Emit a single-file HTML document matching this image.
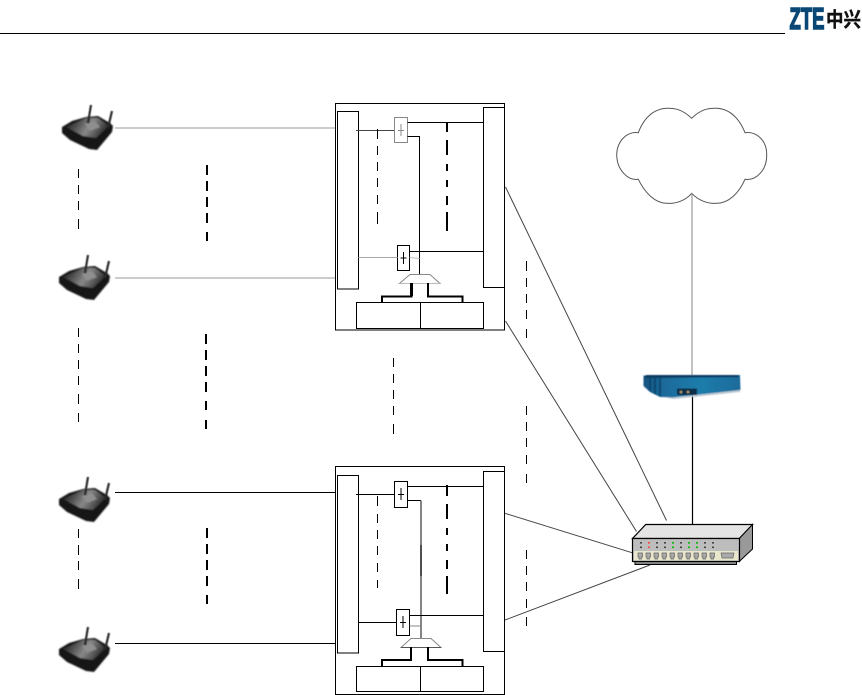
<!DOCTYPE html>
<html><head><meta charset="utf-8"><style>html,body{margin:0;padding:0;background:#fff;width:862px;height:695px;overflow:hidden}svg{display:block}</style></head><body>
<svg width="862" height="695" viewBox="0 0 862 695" xmlns="http://www.w3.org/2000/svg" shape-rendering="auto">
<defs>
<filter id="b" x="-10%" y="-10%" width="120%" height="120%"><feGaussianBlur stdDeviation="0.8"/></filter>
<filter id="b2" x="-10%" y="-10%" width="120%" height="120%"><feGaussianBlur stdDeviation="0.4"/></filter>
<linearGradient id="rt" x1="0" y1="0.2" x2="1" y2="0.5"><stop offset="0" stop-color="#1c1c1c"/><stop offset=".3" stop-color="#555"/><stop offset=".55" stop-color="#888"/><stop offset=".8" stop-color="#555"/><stop offset="1" stop-color="#222"/></linearGradient>
<linearGradient id="bl" x1="0" y1="0" x2="1" y2="0"><stop offset="0" stop-color="#12527f"/><stop offset=".2" stop-color="#1a6a9a"/><stop offset=".6" stop-color="#1f7dab"/><stop offset="1" stop-color="#1a6a9a"/></linearGradient>
<g id="router">
<g filter="url(#b)">
<path d="M62 127 L72 121 L86 117 L98 116 L110 123 L113 126 L112 132 L97 150 L89 149 L70 140 L62 133Z" fill="#161616"/>
<path d="M66 127 L86 118 L98 118 L109 126 L96 138 L83 136 Z" fill="url(#rt)"/>
<path d="M85 124 L95 121 L100 127 L90 131Z" fill="#8f8f8f"/>
</g>
<g filter="url(#b2)" stroke="#2a2a2a" fill="none" stroke-width="2.2">
<path d="M91 105 L88 123"/><path d="M112 111 L108 128"/>
</g>
</g>
</defs>
<rect width="862" height="695" fill="#fff"/>

<!-- header -->
<line x1="0" y1="33.5" x2="785" y2="33.5" stroke="#000" stroke-width="1"/>
<text x="789.500" y="29" font-family="'Liberation Sans',sans-serif" font-weight="700" font-size="31" fill="#0a4775" textLength="35" lengthAdjust="spacingAndGlyphs" stroke="#0a4775" stroke-width="1.5">ZTE</text>
<text x="826" y="26.500" font-family="'Liberation Sans','Noto Sans CJK SC',sans-serif" font-weight="700" font-size="20" fill="#111" textLength="35" lengthAdjust="spacingAndGlyphs" stroke="#111" stroke-width=".4">中兴</text>

<!-- routers -->
<use href="#router"/>
<use href="#router" transform="translate(-3,150)"/>
<use href="#router" transform="translate(-3,372)"/>
<use href="#router" transform="translate(-3,522)"/>

<g fill="none" stroke="#000">
<!-- router links -->
<line x1="115" y1="128" x2="335" y2="128" stroke="#999"/>
<line x1="115" y1="278" x2="335" y2="278" stroke="#999"/>
<line x1="115" y1="492.5" x2="335" y2="492.5"/>
<line x1="115" y1="643.5" x2="335" y2="643.5"/>

<!-- dashes left -->
<g stroke-width="1">
<path d="M78.500 169V178M78.500 185V194M78.500 201V210M78.500 219V229"/>
<path d="M78.500 328V337M78.500 344V353M78.500 360V369M78.500 376V385M78.500 394V404M78.500 413V422"/>
<path d="M78.500 529V538M78.500 545V555M78.500 561V570M78.500 579V589"/>
<path d="M393.500 358V367M393.500 374V383M393.500 390V399M393.500 406V415M393.500 424V434"/>
<path d="M526.500 261V271M526.500 278V287M526.500 294V303M526.500 310V319M526.500 329V338"/>
<path d="M526.500 406V415M526.500 422V431M526.500 438V447M526.500 455V464M526.500 474V483"/>
<path d="M526.500 550V559M526.500 566V575M526.500 582V591M526.500 599V608M526.500 617V626"/>
</g>
<g stroke-width="2">
<path d="M207 165V175M207 181V191M207 197V207M207 213V223M207 232V241"/>
<path d="M206 334V344M206 350V360M206 366V376M206 382V392M206 401V410M206 420V429"/>
<path d="M207 528V538M207 544V554M207 560V570M207 576V586M207 595V604"/>
</g>

<!-- block 1 -->
<rect x="335.500" y="103.500" width="169" height="226.500"/>
<rect x="337.500" y="111.500" width="21" height="177.500"/>
<rect x="483.500" y="107.500" width="21" height="180"/>
<rect x="356.500" y="302.500" width="127" height="26"/>
<line x1="420.500" y1="302.500" x2="420.500" y2="328.500"/>
<line x1="356" y1="130.500" x2="394.500" y2="130.500" stroke="#444"/>
<rect x="394.500" y="117.500" width="13" height="25" stroke="#888"/>
<path d="M401 124V136M398 130.500H404" stroke="#888"/>
<line x1="407.500" y1="122.500" x2="483.500" y2="122.500"/>
<path d="M407.500 136.500H419.500V274"/>
<path d="M377.500 129V139M377.500 146V155M377.500 162V171M377.500 178V187M377.500 195V204M377.500 212V224"/>
<path d="M447 123V132M447 140V155M447 164V171M447 180V187M447 196V205M447 212V231" stroke-width="2"/>
<rect x="397.500" y="245.500" width="12" height="25"/>
<path d="M403.500 252V264M400.500 258H406.500"/>
<line x1="409.500" y1="251.500" x2="483.500" y2="251.500"/>
<line x1="358.500" y1="257.500" x2="397.500" y2="257.500" stroke="#aaa"/>
<line x1="409.500" y1="257.500" x2="419.500" y2="258.500" stroke="#bbb"/>
<path d="M410 274.500H430L440 283.500H399.500Z" stroke="#888" fill="#fff"/>
<path d="M399.500 283.500H440" stroke="#bbb"/>
<path d="M411.500 283V296.500H382V302" stroke-width="2"/>
<path d="M411.500 283V296" stroke-width="3"/>
<path d="M428 283V296.500H462.500V302" stroke-width="2"/>

<!-- block 2 -->
<rect x="335.500" y="466.500" width="169" height="228"/>
<rect x="337.500" y="475.500" width="21" height="177.500"/>
<rect x="483.500" y="471.500" width="21" height="180"/>
<rect x="356.500" y="666.500" width="127" height="25"/>
<line x1="420.500" y1="666.500" x2="420.500" y2="691.500"/>
<line x1="356" y1="494.500" x2="394.500" y2="494.500"/>
<rect x="394.500" y="481.500" width="13" height="26"/>
<path d="M401 488V500M398 494.500H404"/>
<line x1="407.500" y1="486.500" x2="483.500" y2="486.500"/>
<path d="M407.500 500.500H421"/>
<line x1="421" y1="500.500" x2="421" y2="639" stroke="#666" stroke-width="1.6"/>
<line x1="421" y1="545" x2="421" y2="576" stroke="#222" stroke-width="1.3"/>
<path d="M377.500 496V506M377.500 514V523M377.500 530V539M377.500 546V555M377.500 563V572M377.500 580V588"/>
<path d="M447 485V496M447 504V519M447 528V535M447 544V551M447 560V569M447 576V594" stroke-width="2"/>
<rect x="396.500" y="609.500" width="13" height="26"/>
<path d="M403 616V628M400 622.500H406"/>
<line x1="409.500" y1="615.500" x2="483.500" y2="615.500"/>
<line x1="358.500" y1="622.500" x2="396.500" y2="622.500"/>
<line x1="409.500" y1="626" x2="421" y2="626" stroke="#888"/>
<path d="M411 638.500H431L441 647.500H401Z" stroke="#888" fill="#fff"/>
<path d="M401 647.500H441" stroke="#555"/>
<path d="M411 647V660H382V666" stroke-width="2"/>
<path d="M428 647V660H462.500V666" stroke-width="2"/>

<!-- diagonals -->
<g stroke="#444">
<line x1="505.500" y1="187" x2="666.500" y2="520.500"/>
<line x1="505.500" y1="321" x2="636.500" y2="531.500"/>
<line x1="505" y1="513.300" x2="632" y2="552.700"/>
<line x1="505" y1="620" x2="650" y2="565"/>
</g>

<!-- cloud -->
<path d="M691.700 118.300 C682 109 674 108 666.700 108.300 C652 109 643 120 638.300 132.700 C628 131 617 140 616.700 155 C617 170 628 181 638.300 179.300 C645 193 655 203 666.700 203.300 C677 204 686 200 691.700 193.300 C698 200 707 204 716.700 203.300 C729 203 739 193 745 179.300 C756 181 767 170 766.700 155 C767 140 756 131 745 132.700 C740 120 731 109 716.700 108.300 C709 108 701 109 691.700 118.300Z" stroke="#555"/>
<line x1="692" y1="193" x2="692" y2="375" stroke="#999" stroke-width="1.2"/>
<line x1="692.500" y1="388" x2="692.500" y2="524" stroke="#000" stroke-width="1.2"/>
</g>

<!-- blue device -->
<g filter="url(#b2)">
<path d="M643.500 375.500 L740 375 L740.500 390 L672 397.500 L660 397 L650 392 L643.500 386Z" fill="url(#bl)"/>
<path d="M646 375 L738 375 L739 377 L645 378Z" fill="#0a3a60"/>
<path d="M650 378V391M655 378V394M660 378V396" stroke="#0c4168" stroke-width="1.500" fill="none"/>
<path d="M662 397 L674 397.500 L740 390 L740 392 L674 399Z" fill="#b9c6d2"/>
<rect x="677" y="388.500" width="20" height="6.500" fill="#0e2f48"/>
<circle cx="681" cy="392" r="1.300" fill="#b8a070"/><circle cx="688" cy="392" r="1.300" fill="#b8a070"/>
</g>

<!-- switch -->
<g>
<path d="M635 561.500H736.500V564.500H635Z" fill="#888" stroke="#000" stroke-width="1"/>
<path d="M645.700 524.500H752.500L739.300 538.500H632.500Z" fill="#e4e4e4" stroke="#000" stroke-width="1.200"/>
<path d="M739.300 538.500L752.500 524.500V549L739.300 561.500Z" fill="#999" stroke="#000" stroke-width="1"/>
<rect x="632.500" y="538.500" width="107" height="23" fill="#bdbdbd" stroke="#000" stroke-width="1.200"/>
<rect x="634" y="551" width="104" height="9.500" fill="#e8e6cc"/>
<g fill="#444">
<rect x="640" y="542" width="2" height="1.600"/><rect x="640" y="546.500" width="2" height="1.600"/>
<rect x="656" y="542" width="2" height="1.600"/><rect x="656" y="546.500" width="2" height="1.600"/>
<rect x="664" y="542" width="2" height="1.600"/><rect x="664" y="546.500" width="2" height="1.600"/>
<rect x="680" y="542" width="2" height="1.600"/><rect x="680" y="546.500" width="2" height="1.600"/>
<rect x="704" y="542" width="2" height="1.600"/><rect x="704" y="546.500" width="2" height="1.600"/>
<rect x="712" y="542" width="2" height="1.600"/><rect x="712" y="546.500" width="2" height="1.600"/>
</g>
<g fill="#f44">
<rect x="648" y="542" width="2" height="1.600"/><rect x="648" y="546.500" width="2" height="1.600"/>
</g>
<g fill="#0b0">
<rect x="672" y="542" width="2" height="1.600"/><rect x="672" y="546.500" width="2" height="1.600"/>
<rect x="688" y="542" width="2" height="1.600"/><rect x="688" y="546.500" width="2" height="1.600"/>
<rect x="696" y="542" width="2" height="1.600"/><rect x="696" y="546.500" width="2" height="1.600"/>
</g>
<g fill="#aaa" stroke="#666" stroke-width=".7">
<path d="M638 553h4.500v4h-1v2h-2.500v-2h-1z"/><path d="M646 553h4.500v4h-1v2h-2.500v-2h-1z"/><path d="M654 553h4.500v4h-1v2h-2.500v-2h-1z"/><path d="M662 553h4.500v4h-1v2h-2.500v-2h-1z"/><path d="M670 553h4.500v4h-1v2h-2.500v-2h-1z"/><path d="M678 553h4.500v4h-1v2h-2.500v-2h-1z"/><path d="M686 553h4.500v4h-1v2h-2.500v-2h-1z"/><path d="M694 553h4.500v4h-1v2h-2.500v-2h-1z"/><path d="M702 553h4.500v4h-1v2h-2.500v-2h-1z"/><path d="M710 553h4.500v4h-1v2h-2.500v-2h-1z"/>
<path d="M721 553h13l-1 5h-11z"/>
</g>
</g>
</svg>
</body></html>
